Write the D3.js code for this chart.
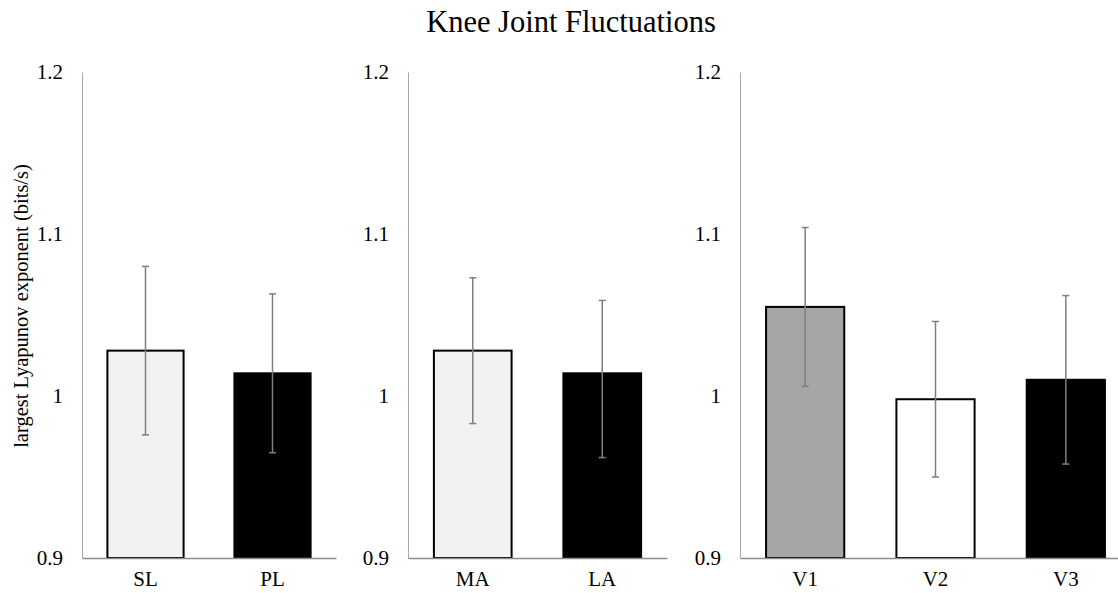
<!DOCTYPE html>
<html>
<head>
<meta charset="utf-8">
<script src="https://cdn.jsdelivr.net/npm/d3@7"></script>
<style>
  body { margin: 0; background: #fff; }
</style>
</head>
<body>
<div id="app"></div>
<script>
// data
const groupLabels = [["SL", "PL"], ["MA", "LA"], ["V1", "V2", "V3"]];
const groupMeans = [[1.028, 1.014], [1.028, 1.014], [1.055, 0.998, 1.010]];
const groupErrUp = [[0.052, 0.049], [0.045, 0.045], [0.049, 0.048, 0.052]];
const groupErrDown = [[0.052, 0.049], [0.045, 0.052], [0.049, 0.048, 0.052]];
const yTicks = [0.9, 1.0, 1.1, 1.2];

// styles
const groupFills = [["#f2f2f2", "#000000"], ["#f2f2f2", "#000000"], ["#a6a6a6", "#ffffff", "#000000"]];
const panelX = [[82, 336], [408, 667], [740, 1131]];
const serif = '"Liberation Serif", "Times New Roman", "DejaVu Serif", serif';

const width = 1118, height = 593;

const svg = d3.select("#app")
  .append("svg")
  .attr("width", width)
  .attr("height", height);

svg.append("text")
  .attr("x", 571)
  .attr("y", 32)
  .attr("text-anchor", "middle")
  .style("font-family", serif)
  .style("font-size", "30.5px")
  .text("Knee Joint Fluctuations");

svg.append("text")
  .attr("transform", "translate(28,306) rotate(-90)")
  .attr("text-anchor", "middle")
  .style("font-family", serif)
  .style("font-size", "20.5px")
  .text("largest Lyapunov exponent (bits/s)");

const y = d3.scaleLinear().domain([0.9, 1.2]).range([558, 72]);

groupLabels.forEach((cats, i) => {
  const x = d3.scaleBand()
    .domain(cats)
    .range(panelX[i])
    .paddingInner(0.4)
    .paddingOuter(0.2);

  const g = svg.append("g");

  // y axis
  const yAxis = g.append("g")
    .attr("transform", `translate(${panelX[i][0]},0)`)
    .call(d3.axisLeft(y).tickValues(yTicks).tickSize(0).tickPadding(19)
      .tickFormat(d => d === 1 ? "1" : d3.format(".1f")(d)));
  yAxis.select(".domain").attr("stroke", "#a6a6a6").attr("stroke-width", 1);
  yAxis.selectAll("text").style("font-family", serif).style("font-size", "21px").attr("fill", "#000");

  const rows = cats.map((c, j) => ({
    cat: c, mean: groupMeans[i][j], up: groupErrUp[i][j], down: groupErrDown[i][j], fill: groupFills[i][j]
  }));

  g.selectAll("rect")
    .data(rows)
    .join("rect")
    .attr("x", d => x(d.cat))
    .attr("y", d => y(d.mean))
    .attr("width", x.bandwidth())
    .attr("height", d => y(0.9) - y(d.mean))
    .attr("fill", d => d.fill)
    .attr("stroke", "#000")
    .attr("stroke-width", 2);

  // x axis (baseline)
  const xAxis = g.append("g")
    .attr("transform", `translate(0,${y(0.9)})`)
    .call(d3.axisBottom(x).tickSize(0).tickPadding(13));
  xAxis.select(".domain").attr("stroke", "#8c8c8c").attr("stroke-width", 1.5);
  xAxis.selectAll("text").style("font-family", serif).style("font-size", "21px").attr("fill", "#000");

  // error bars
  const eb = g.selectAll(".err")
    .data(rows)
    .join("g")
    .attr("class", "err")
    .attr("stroke", "#7f7f7f")
    .attr("stroke-width", 1.5);
  const cx = d => x(d.cat) + x.bandwidth() / 2;
  eb.append("line")
    .attr("x1", cx).attr("x2", cx)
    .attr("y1", d => y(d.mean + d.up))
    .attr("y2", d => y(d.mean - d.down));
  eb.append("line")
    .attr("x1", d => cx(d) - 3.5).attr("x2", d => cx(d) + 3.5)
    .attr("y1", d => y(d.mean + d.up)).attr("y2", d => y(d.mean + d.up));
  eb.append("line")
    .attr("x1", d => cx(d) - 3.5).attr("x2", d => cx(d) + 3.5)
    .attr("y1", d => y(d.mean - d.down)).attr("y2", d => y(d.mean - d.down));
});
</script>
</body>
</html>
